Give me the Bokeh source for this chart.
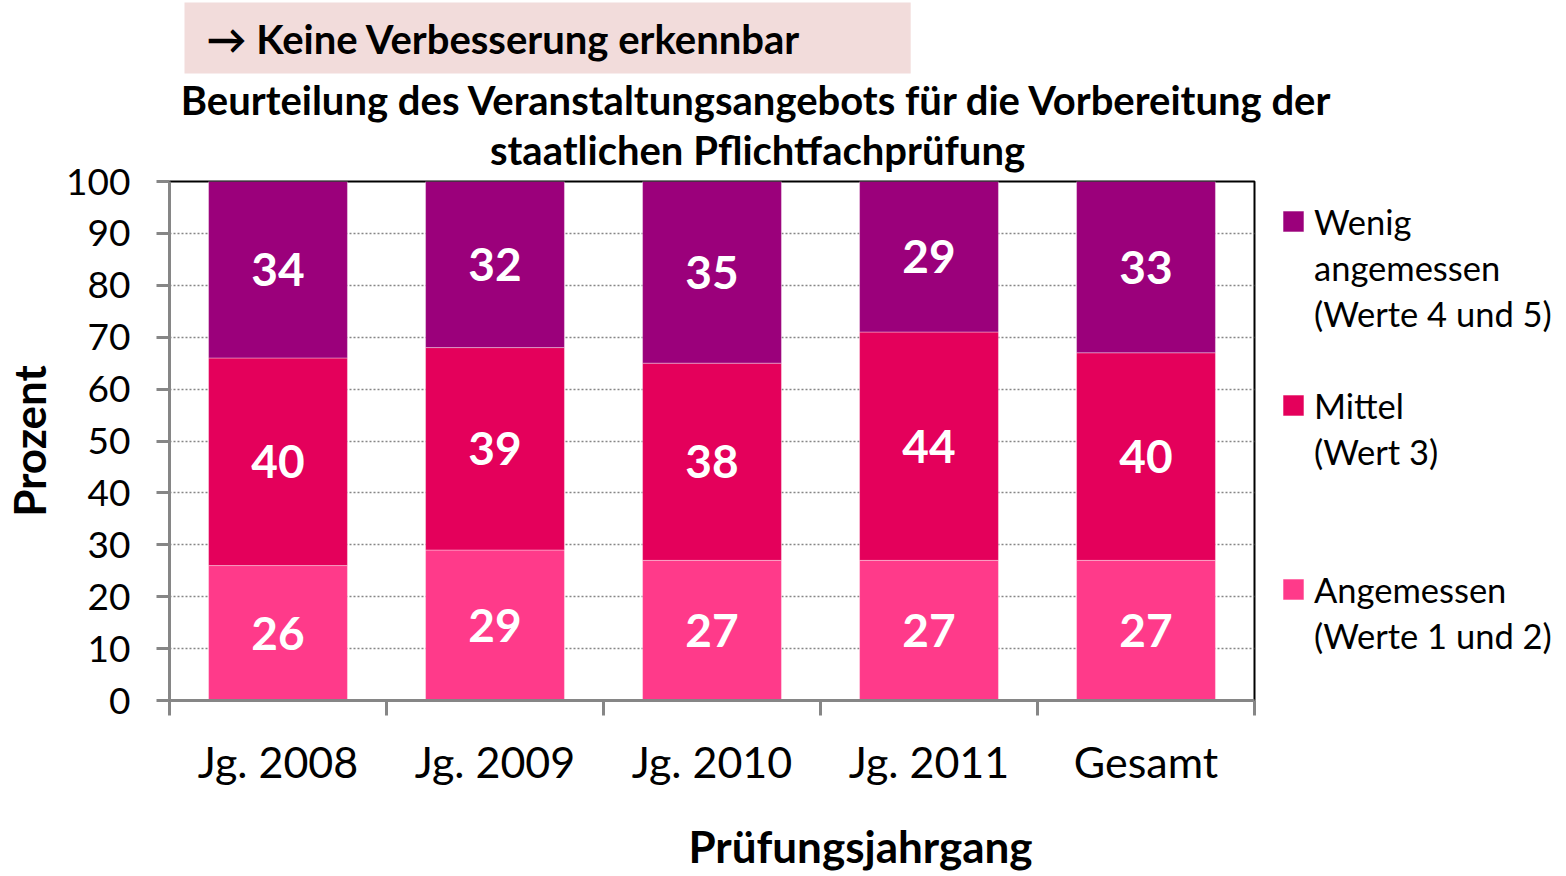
import numpy as np
from bokeh.plotting import figure
from bokeh.models import (Range1d, FixedTicker, ColumnDataSource, Title, Legend, LegendItem)
from bokeh.core.properties import value
from bokeh.embed import file_html
from bokeh.resources import INLINE

# ---- data ----
categories = ["Jg. 2008", "Jg. 2009", "Jg. 2010", "Jg. 2011", "Gesamt"]
angemessen = [26, 29, 27, 27, 27]
mittel = [40, 39, 38, 44, 40]
wenig = [34, 32, 35, 29, 33]
y_ticks = list(range(0, 101, 10))
legend_wenig = ["Wenig", "angemessen", "(Werte 4 und 5)"]
legend_mittel = ["Mittel", "(Wert 3)"]
legend_ang = ["Angemessen", "(Werte 1 und 2)"]
title_lines = ["Beurteilung des Veranstaltungsangebots für die Vorbereitung der",
               "staatlichen Pflichtfachprüfung"]
banner_text = "\u2192 Keine Verbesserung erkennbar"
x_title = "Prüfungsjahrgang"
y_title = "Prozent"

# ---- style ----
FONT = "Lato"
C_ANG = "#FF3A8A"
C_MIT = "#E4005B"
C_WEN = "#9B007B"
GRAY = "#868686"

n = len(categories)
xpos = np.arange(n) + 0.5
ang = np.array(angemessen, dtype=float)
mit = np.array(mittel, dtype=float)
wen = np.array(wenig, dtype=float)

src = ColumnDataSource(dict(x=xpos, ang=ang, mit=mit, wen=wen))

p = figure(frame_width=1085, frame_height=519, output_backend="svg", toolbar_location=None,
           x_range=Range1d(0, n), y_range=Range1d(0, 100),
           min_border_left=162, min_border_right=295, min_border_top=181, min_border_bottom=150)
p.background_fill_color = "white"
p.border_fill_color = "white"
p.outline_line_color = "black"
p.outline_line_width = 2

r_ang, r_mit, r_wen = p.vbar_stack(["ang", "mit", "wen"], x="x", width=0.64, source=src,
                                   fill_color=[C_ANG, C_MIT, C_WEN], line_color="white",
                                   line_alpha=0.35, line_width=1)

# value labels
lab_x = np.concatenate([xpos, xpos, xpos])
lab_y = np.concatenate([ang / 2, ang + mit / 2, ang + mit + wen / 2])
lab_t = [str(int(v)) for v in np.concatenate([ang, mit, wen])]
p.text(x=lab_x, y=lab_y, text=lab_t, text_font=value(FONT), text_font_style="bold",
       text_font_size="46px", text_color="white", text_align="center", text_baseline="middle")

# axes
p.xgrid.visible = False
p.ygrid.ticker = FixedTicker(ticks=y_ticks)
p.ygrid.grid_line_color = GRAY
p.ygrid.grid_line_dash = "2 2"
p.ygrid.grid_line_width = 1.5

ya = p.yaxis[0]
ya.ticker = FixedTicker(ticks=y_ticks)
ya.axis_line_color = GRAY
ya.axis_line_width = 3
ya.major_tick_line_color = GRAY
ya.major_tick_line_width = 3
ya.major_tick_out = 13
ya.major_tick_in = 0
ya.minor_tick_line_color = None
ya.major_label_text_font = FONT
ya.major_label_text_font_size = "37px"
ya.major_label_text_color = "black"
ya.major_label_standoff = 26
ya.axis_label = y_title
ya.axis_label_text_font = FONT
ya.axis_label_text_font_size = "44px"
ya.axis_label_text_font_style = "bold"
ya.axis_label_text_color = "black"
ya.axis_label_standoff = 8

xa = p.xaxis[0]
xa.ticker = FixedTicker(ticks=list(xpos), minor_ticks=list(range(n + 1)))
xa.major_label_overrides = {float(x): c for x, c in zip(xpos, categories)}
xa.axis_line_color = GRAY
xa.axis_line_width = 3
xa.major_tick_line_color = None
xa.major_tick_out = 0
xa.major_tick_in = 0
xa.minor_tick_line_color = GRAY
xa.minor_tick_line_width = 3
xa.minor_tick_out = 15
xa.minor_tick_in = 0
xa.major_label_text_font = FONT
xa.major_label_text_font_size = "43px"
xa.major_label_text_color = "black"
xa.major_label_standoff = 20

# titles (above, stacked outward from the frame)
p.add_layout(Title(text=title_lines[1], align="center", text_font=FONT, text_font_style="bold",
                   text_font_size="40px", text_color="black", standoff=0,
                   padding=dict(left=91, right=0, top=0, bottom=8)), "above")
p.add_layout(Title(text=title_lines[0], align="center", text_font=FONT, text_font_style="bold",
                   text_font_size="40px", text_color="black", standoff=0,
                   padding=dict(left=91, right=0, top=0, bottom=0)), "above")
p.add_layout(Title(text=banner_text, align="left", offset=15, text_font=FONT, text_font_style="bold",
                   text_font_size="40px", text_color="black", standoff=0,
                   background_fill_color="#F2DCDB",
                   padding=dict(left=22, right=110, top=12, bottom=11)), "above")

# x axis title below
p.add_layout(Title(text=x_title, align="center", text_font=FONT, text_font_style="bold",
                   text_font_size="44px", text_color="black", standoff=0,
                   padding=dict(left=297, right=0, top=28, bottom=0)), "below")

# legend
dummy = p.vbar(x=[], top=[], width=0.1, fill_alpha=0, line_alpha=0)
items = [
    LegendItem(label=legend_wenig[0], renderers=[r_wen]),
    LegendItem(label=legend_wenig[1], renderers=[dummy]),
    LegendItem(label=legend_wenig[2], renderers=[dummy]),
    LegendItem(label=" ", renderers=[dummy]),
    LegendItem(label=legend_mittel[0], renderers=[r_mit]),
    LegendItem(label=legend_mittel[1], renderers=[dummy]),
    LegendItem(label=" ", renderers=[dummy]),
    LegendItem(label=" ", renderers=[dummy]),
    LegendItem(label=legend_ang[0], renderers=[r_ang]),
    LegendItem(label=legend_ang[1], renderers=[dummy]),
]
legend = Legend(items=items, location=(26, 42), margin=0, padding=0, ncols=1,
                glyph_width=26, glyph_height=26, label_standoff=8, spacing=0,
                label_height=46, label_text_font=FONT, label_text_font_size="34.5px",
                label_text_color="black", border_line_color=None, background_fill_alpha=0)
p.add_layout(legend, "right")

open("out.html", "w").write(file_html(p, INLINE))
